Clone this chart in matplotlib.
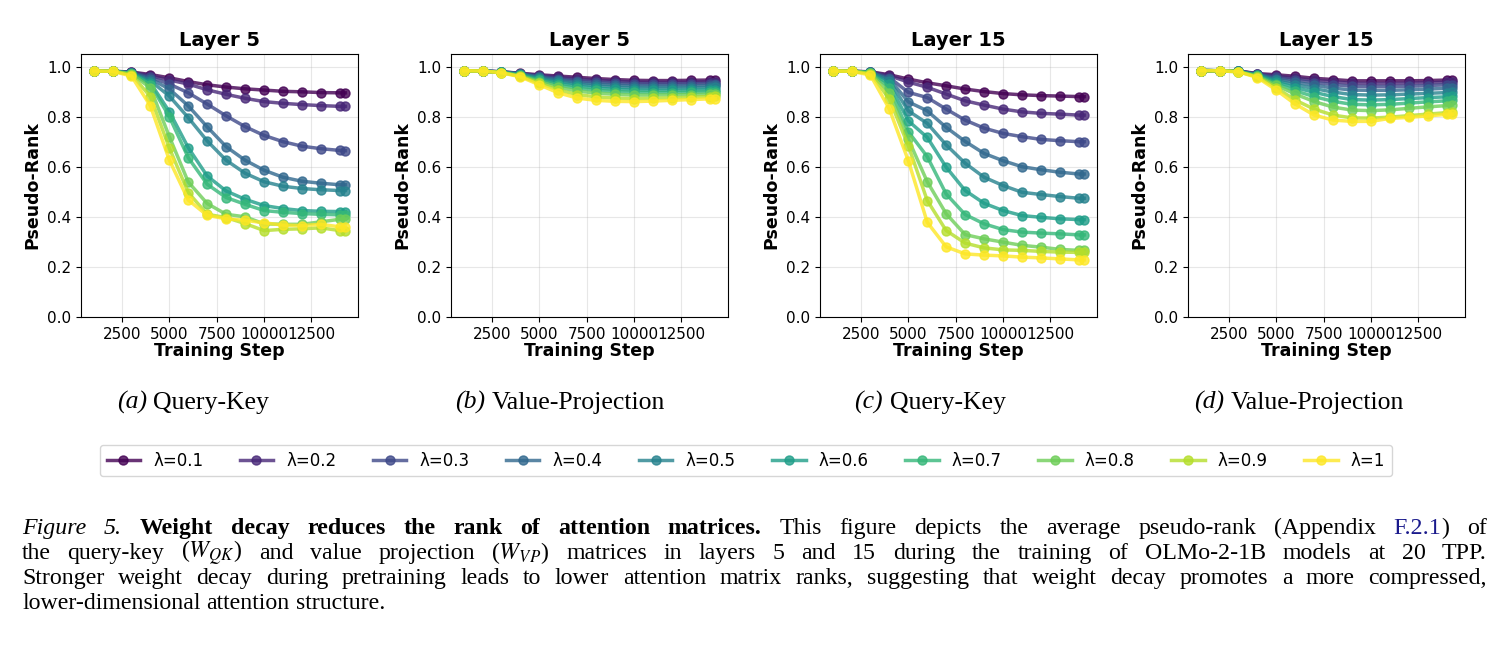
import numpy as np
import matplotlib
matplotlib.use('Agg')
import matplotlib.pyplot as plt

plt.rcParams['mathtext.fontset'] = 'stix'

# training steps (last checkpoint slightly after 14000)
steps = [1000, 2000, 3000, 4000, 5000, 6000, 7000, 8000, 9000, 10000,
         11000, 12000, 13000, 14000, 14300]
lambdas = ['0.1', '0.2', '0.3', '0.4', '0.5', '0.6', '0.7', '0.8', '0.9', '1']

# (a) Query-Key, layer 5
qk_layer5 = [
    [0.982, 0.981, 0.978, 0.968, 0.955, 0.940, 0.927, 0.918, 0.911, 0.906, 0.901, 0.899, 0.896, 0.895, 0.895],
    [0.982, 0.981, 0.977, 0.963, 0.946, 0.930, 0.907, 0.889, 0.873, 0.860, 0.853, 0.848, 0.844, 0.841, 0.841],
    [0.982, 0.981, 0.976, 0.957, 0.930, 0.895, 0.850, 0.803, 0.760, 0.725, 0.700, 0.682, 0.672, 0.665, 0.664],
    [0.982, 0.981, 0.975, 0.951, 0.910, 0.843, 0.759, 0.680, 0.626, 0.586, 0.558, 0.542, 0.534, 0.528, 0.528],
    [0.982, 0.981, 0.974, 0.943, 0.882, 0.796, 0.703, 0.626, 0.574, 0.540, 0.522, 0.513, 0.508, 0.505, 0.505],
    [0.982, 0.981, 0.973, 0.935, 0.820, 0.676, 0.563, 0.503, 0.470, 0.445, 0.433, 0.425, 0.422, 0.421, 0.421],
    [0.982, 0.981, 0.972, 0.928, 0.800, 0.636, 0.530, 0.477, 0.450, 0.425, 0.418, 0.413, 0.410, 0.408, 0.408],
    [0.982, 0.981, 0.970, 0.915, 0.720, 0.539, 0.453, 0.410, 0.400, 0.372, 0.370, 0.370, 0.380, 0.390, 0.390],
    [0.982, 0.981, 0.968, 0.880, 0.675, 0.497, 0.410, 0.397, 0.373, 0.345, 0.350, 0.352, 0.356, 0.345, 0.345],
    [0.982, 0.981, 0.962, 0.843, 0.627, 0.467, 0.406, 0.392, 0.386, 0.376, 0.367, 0.365, 0.370, 0.360, 0.360],
]

# (b) Value-Projection, layer 5
vp_layer5 = [
    [0.983, 0.982, 0.979, 0.973, 0.967, 0.962, 0.957, 0.952, 0.948, 0.945, 0.944, 0.944, 0.945, 0.946, 0.946],
    [0.983, 0.982, 0.979, 0.972, 0.964, 0.957, 0.951, 0.945, 0.941, 0.938, 0.937, 0.937, 0.938, 0.939, 0.940],
    [0.983, 0.982, 0.978, 0.971, 0.961, 0.952, 0.944, 0.938, 0.934, 0.931, 0.930, 0.930, 0.931, 0.932, 0.932],
    [0.983, 0.982, 0.978, 0.970, 0.958, 0.947, 0.937, 0.931, 0.926, 0.923, 0.922, 0.922, 0.923, 0.924, 0.925],
    [0.983, 0.982, 0.978, 0.969, 0.954, 0.941, 0.930, 0.923, 0.918, 0.915, 0.914, 0.914, 0.915, 0.916, 0.917],
    [0.983, 0.982, 0.977, 0.967, 0.950, 0.934, 0.922, 0.914, 0.909, 0.906, 0.905, 0.905, 0.906, 0.907, 0.908],
    [0.983, 0.982, 0.977, 0.965, 0.945, 0.926, 0.913, 0.905, 0.900, 0.897, 0.896, 0.896, 0.897, 0.899, 0.900],
    [0.983, 0.982, 0.976, 0.963, 0.940, 0.917, 0.902, 0.894, 0.889, 0.886, 0.886, 0.887, 0.888, 0.889, 0.890],
    [0.983, 0.982, 0.976, 0.961, 0.934, 0.906, 0.888, 0.879, 0.874, 0.872, 0.873, 0.875, 0.877, 0.880, 0.881],
    [0.983, 0.982, 0.975, 0.959, 0.927, 0.895, 0.874, 0.865, 0.861, 0.860, 0.862, 0.865, 0.868, 0.871, 0.872],
]

# (c) Query-Key, layer 15
qk_layer15 = [
    [0.982, 0.981, 0.979, 0.967, 0.950, 0.935, 0.923, 0.910, 0.900, 0.892, 0.887, 0.884, 0.882, 0.880, 0.880],
    [0.982, 0.981, 0.978, 0.963, 0.938, 0.917, 0.890, 0.863, 0.846, 0.830, 0.819, 0.813, 0.810, 0.806, 0.806],
    [0.982, 0.981, 0.978, 0.956, 0.897, 0.876, 0.830, 0.786, 0.754, 0.733, 0.720, 0.709, 0.704, 0.700, 0.700],
    [0.982, 0.981, 0.977, 0.950, 0.859, 0.823, 0.757, 0.701, 0.653, 0.624, 0.600, 0.588, 0.578, 0.571, 0.571],
    [0.982, 0.981, 0.977, 0.943, 0.823, 0.773, 0.687, 0.614, 0.558, 0.525, 0.498, 0.489, 0.481, 0.474, 0.474],
    [0.982, 0.981, 0.976, 0.930, 0.783, 0.717, 0.598, 0.505, 0.454, 0.425, 0.405, 0.398, 0.392, 0.389, 0.389],
    [0.982, 0.981, 0.975, 0.916, 0.740, 0.640, 0.491, 0.409, 0.372, 0.349, 0.339, 0.335, 0.332, 0.328, 0.328],
    [0.982, 0.981, 0.974, 0.896, 0.710, 0.540, 0.412, 0.329, 0.312, 0.299, 0.286, 0.279, 0.270, 0.266, 0.266],
    [0.982, 0.981, 0.972, 0.870, 0.684, 0.465, 0.345, 0.295, 0.276, 0.268, 0.266, 0.262, 0.259, 0.258, 0.258],
    [0.982, 0.981, 0.966, 0.830, 0.624, 0.378, 0.280, 0.252, 0.247, 0.244, 0.239, 0.236, 0.232, 0.228, 0.228],
]

# (d) Value-Projection, layer 15
vp_layer15 = [
    [0.984, 0.983, 0.982, 0.972, 0.967, 0.961, 0.953, 0.948, 0.943, 0.943, 0.943, 0.943, 0.944, 0.946, 0.946],
    [0.984, 0.983, 0.982, 0.970, 0.962, 0.954, 0.945, 0.939, 0.933, 0.932, 0.932, 0.933, 0.935, 0.937, 0.938],
    [0.984, 0.983, 0.982, 0.969, 0.957, 0.946, 0.936, 0.928, 0.921, 0.920, 0.920, 0.921, 0.924, 0.927, 0.928],
    [0.984, 0.983, 0.981, 0.968, 0.951, 0.937, 0.925, 0.914, 0.906, 0.905, 0.905, 0.907, 0.910, 0.913, 0.915],
    [0.984, 0.983, 0.981, 0.966, 0.945, 0.927, 0.912, 0.898, 0.888, 0.886, 0.887, 0.890, 0.893, 0.896, 0.898],
    [0.984, 0.983, 0.981, 0.965, 0.939, 0.916, 0.897, 0.880, 0.868, 0.866, 0.868, 0.872, 0.876, 0.879, 0.881],
    [0.984, 0.983, 0.980, 0.963, 0.932, 0.903, 0.880, 0.861, 0.849, 0.847, 0.849, 0.854, 0.859, 0.863, 0.865],
    [0.984, 0.983, 0.980, 0.961, 0.925, 0.890, 0.860, 0.838, 0.826, 0.824, 0.827, 0.833, 0.839, 0.844, 0.846],
    [0.984, 0.983, 0.979, 0.959, 0.915, 0.866, 0.830, 0.806, 0.795, 0.794, 0.798, 0.804, 0.810, 0.816, 0.818],
    [0.984, 0.983, 0.979, 0.956, 0.906, 0.850, 0.806, 0.786, 0.781, 0.781, 0.793, 0.797, 0.803, 0.809, 0.810],
]

titles = ['Layer 5', 'Layer 5', 'Layer 15', 'Layer 15']
subcaptions = [('(a)', 'Query-Key'), ('(b)', 'Value-Projection'),
               ('(c)', 'Query-Key'), ('(d)', 'Value-Projection')]

W, H = 1496, 654
fig = plt.figure(figsize=(W / 100, H / 100), dpi=100)
colors = plt.cm.viridis(np.linspace(0, 1, len(lambdas)))

lefts = [81, 451, 820, 1188]
panels = [qk_layer5, vp_layer5, qk_layer15, vp_layer15]
for left, title, data in zip(lefts, titles, panels):
    ax = fig.add_axes([left / W, 1 - 317 / H, 277 / W, 263 / H])
    for i, vals in enumerate(data):
        ax.plot(steps, vals, '-o', color=colors[i], lw=2.5, ms=6.5, alpha=0.8,
                label='λ=' + lambdas[i])
    ax.set_ylim(0, 1.05)
    ax.set_title(title, fontsize=14, fontweight='bold')
    ax.set_xlabel('Training Step', fontsize=12.5, fontweight='bold', labelpad=0)
    ax.set_ylabel('Pseudo-Rank', fontsize=12.5, fontweight='bold')
    ax.tick_params(labelsize=11)
    ax.grid(True, alpha=0.3)

handles, labels = ax.get_legend_handles_labels()
fig.legend(handles, labels, loc='center', ncol=10, fontsize=12, mode='expand',
           bbox_to_anchor=(100 / W, 1 - 474 / H, 1292 / W, 27 / H),
           handlelength=2, borderaxespad=0)

# ---- caption text (serif, like the paper) ----
renderer = fig.canvas.get_renderer()
serif = 'Liberation Serif'
STYLES = {
    'n': dict(family=serif),
    'i': dict(family=serif, style='italic'),
    'b': dict(family=serif, weight='bold'),
    'blue': dict(family=serif, color='#1a1a8c'),
}


def put_words(words, x0, ybase, size, mode='left', width=None):
    objs, widths = [], []
    for w in words:
        segs, ww = [], 0
        for txt, st in w:
            t = fig.text(0, 1 - ybase / H, txt, fontsize=size, va='baseline', **STYLES[st])
            bw = t.get_window_extent(renderer).width
            segs.append((t, bw))
            ww += bw
        objs.append(segs)
        widths.append(ww)
    gap = size * 100 / 72 * 0.25
    if mode == 'justify':
        gap = (width - sum(widths)) / (len(words) - 1)
    total = sum(widths) + gap * (len(words) - 1)
    x = x0 - total / 2 if mode == 'center' else x0
    for segs in objs:
        for t, bw in segs:
            t.set_x(x / W)
            x += bw
        x += gap


def words_of(text, style='n'):
    return [[(w, style)] for w in text.split()]


sub_centers = [193, 560, 930, 1299]
for cx, (tag, name) in zip(sub_centers, subcaptions):
    put_words([[(tag, 'i')], [(name, 'n')]], cx, 409, 18.5, mode='center')

cap_size = 17.2
line1 = (words_of('Figure 5.', 'i')
         + words_of('Weight decay reduces the rank of attention matrices.', 'b')
         + words_of('This figure depicts the average pseudo-rank (Appendix')
         + [[('F.2.1', 'blue'), (')', 'n')], [('of', 'n')]])
line2 = words_of('the query-key') + [[('($W_{QK}$)', 'n')]] \
    + words_of('and value projection') + [[('($W_{VP}$)', 'n')]] \
    + words_of('matrices in layers 5 and 15 during the training of OLMo-2-1B models at 20 TPP.')
line3 = words_of('Stronger weight decay during pretraining leads to lower attention matrix '
                 'ranks, suggesting that weight decay promotes a more compressed,')
line4 = words_of('lower-dimensional attention structure.')

put_words(line1, 22, 534, cap_size, mode='justify', width=1465)
put_words(line2, 22, 559, cap_size, mode='justify', width=1465)
put_words(line3, 22, 584, cap_size, mode='justify', width=1465)
put_words(line4, 22, 609, cap_size)

fig.savefig('out.png', dpi=100)
